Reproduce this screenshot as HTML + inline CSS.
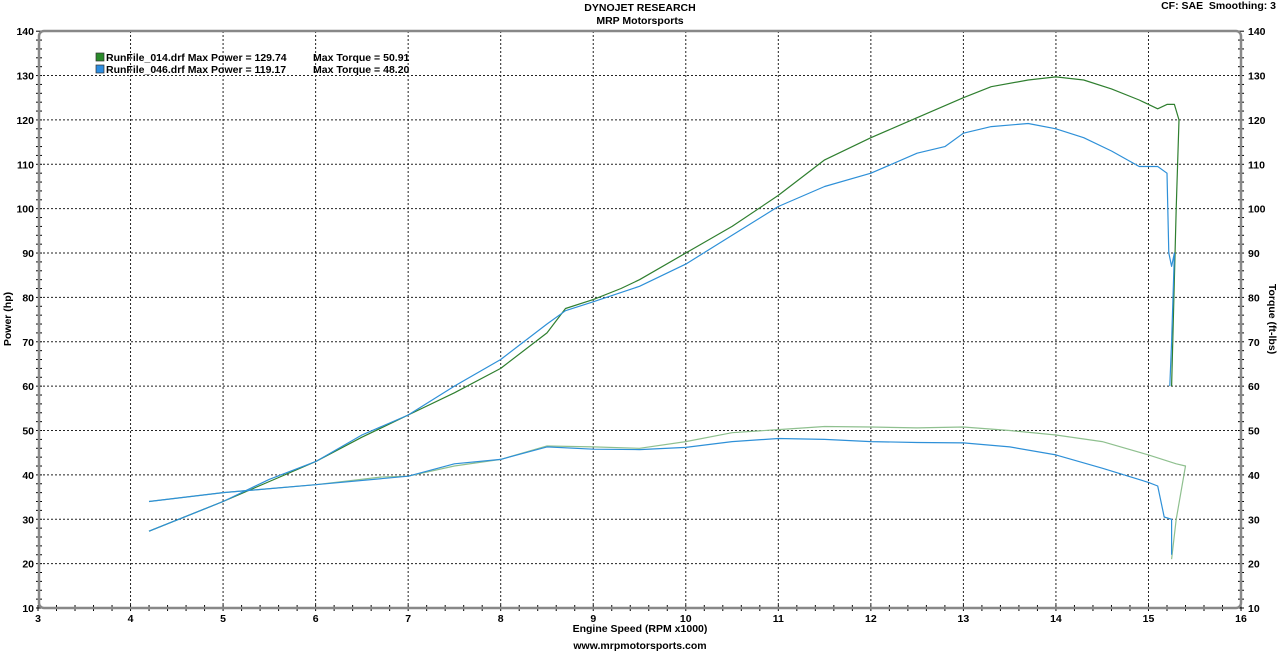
<!DOCTYPE html>
<html><head><meta charset="utf-8"><style>
body{margin:0;background:#fff;width:1280px;height:651px;overflow:hidden}
text{font-family:"Liberation Sans",sans-serif;font-weight:bold;font-size:10.5px;fill:#000}
</style></head><body>
<svg id="s" width="1280" height="651" xmlns="http://www.w3.org/2000/svg">
<text x="640" y="11" text-anchor="middle">DYNOJET RESEARCH</text>
<text x="640" y="24" text-anchor="middle">MRP Motorsports</text>
<text x="1276" y="9" text-anchor="end">CF: SAE&#160;&#160;Smoothing: 3</text>
<text x="640" y="632" text-anchor="middle">Engine Speed (RPM x1000)</text>
<text x="640" y="649" text-anchor="middle">www.mrpmotorsports.com</text>
<text transform="translate(11,319) rotate(-90)" text-anchor="middle">Power (hp)</text>
<text transform="translate(1269,319) rotate(90)" text-anchor="middle">Torque (ft-lbs)</text>
<g id="g"></g>
<rect x="39" y="31" width="1202" height="577" rx="5" fill="none" stroke="#888" stroke-width="2.5"/>
<rect x="96" y="53" width="8" height="8" fill="#2a8a2a" stroke="#333" stroke-width="0.7"/>
<rect x="96" y="65" width="8" height="8" fill="#2e8de0" stroke="#333" stroke-width="0.7"/>
<text x="106" y="61">RunFile_014.drf Max Power = 129.74</text><text x="313" y="61">Max Torque = 50.91</text>
<text x="106" y="73">RunFile_046.drf Max Power = 119.17</text><text x="313" y="73">Max Torque = 48.20</text>
</svg>
<script>
const X=r=>38+(r-3)*92.54, Y=v=>608-(v-10)*4.437;
const g=document.getElementById('g');let h='';
for(let r=4;r<16;r++)h+=`<line x1="${X(r)}" y1="31" x2="${X(r)}" y2="608" stroke="#222" stroke-dasharray="2,2" stroke-width="1"/>`;
for(let v=20;v<140;v+=10)h+=`<line x1="39" y1="${Y(v)}" x2="1241" y2="${Y(v)}" stroke="#222" stroke-dasharray="2,2" stroke-width="1"/>`;
for(let r=3;r<=16.001;r+=0.2)h+=`<line x1="${X(r)}" y1="605" x2="${X(r)}" y2="611" stroke="#000"/>`;
for(let v=10;v<=140.001;v+=2){h+=`<line x1="36" y1="${Y(v)}" x2="42" y2="${Y(v)}" stroke="#000"/><line x1="1238" y1="${Y(v)}" x2="1244" y2="${Y(v)}" stroke="#000"/>`;}
for(let r=3;r<=16;r++)h+=`<text x="${X(r)}" y="622" text-anchor="middle">${r}</text>`;
for(let v=10;v<=140;v+=10)h+=`<text x="34" y="${Y(v)+4}" text-anchor="end">${v}</text><text x="1248" y="${Y(v)+4}">${v}</text>`;
const P=(d,c,w)=>{let s='M';for(let i=0;i<d.length;i+=2)s+=X(d[i]).toFixed(1)+','+Y(d[i+1]).toFixed(1)+' ';h+=`<path d="${s}" fill="none" stroke="${c}" stroke-width="${w}" stroke-linejoin="round"/>`};
P([4.2,27.3,5,34,5.5,38.5,6,43,6.5,48.5,7,53.5,7.5,58.5,8,64,8.5,72,8.7,77.5,9,79.5,9.3,82,9.5,84,10,90,10.5,96,11,103,11.5,111,12,116,12.5,120.5,13,125,13.3,127.5,13.7,129,14,129.7,14.3,129,14.6,127,14.9,124.5,15.1,122.5,15.2,123.5,15.28,123.5,15.33,120,15.3,100,15.25,60],'#2f7f2f',1.2);
P([4.2,34,5,36,6,37.8,6.7,39.5,7,39.7,7.5,42,8,43.5,8.5,46.5,9,46.3,9.5,46,10,47.5,10.5,49.5,11,50.2,11.5,50.9,12,50.8,12.5,50.6,13,50.8,13.5,50,14,49,14.5,47.5,15,44.5,15.3,42.5,15.4,42,15.3,30,15.25,21],'#8fc08f',1.2);
P([4.2,27.3,5,34,5.5,39,6,43,6.5,49,7,53.5,7.5,60,8,66,8.5,74,8.7,77,9,79,9.5,82.5,10,87.5,10.5,94,11,100.5,11.5,105,12,108,12.5,112.5,12.8,114,13,117,13.3,118.5,13.7,119.2,14,118,14.3,116,14.6,113,14.9,109.5,15.1,109.5,15.2,108,15.22,90,15.25,87,15.28,90,15.25,70,15.23,60],'#2e90d8',1.2);
P([4.2,34,5,36,6,37.8,7,39.7,7.5,42.5,8,43.5,8.5,46.3,9,45.8,9.5,45.7,10,46.2,10.5,47.5,11,48.2,11.5,48,12,47.5,12.5,47.3,13,47.2,13.5,46.3,14,44.5,14.5,41.5,15,38.3,15.1,37.5,15.17,30.5,15.25,30,15.25,22],'#2e90d8',1.2);
g.innerHTML=h;
</script>
</body></html>
